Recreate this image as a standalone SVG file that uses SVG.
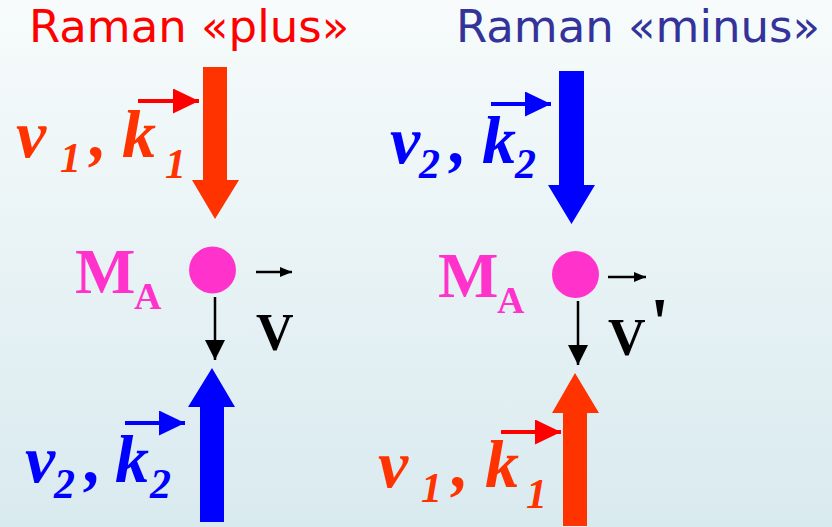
<svg xmlns="http://www.w3.org/2000/svg" width="832" height="527" viewBox="0 0 832 527">
<defs>
<linearGradient id="bg" x1="0" y1="0" x2="0" y2="1">
<stop offset="0" stop-color="#f7fbfb"/>
<stop offset="1" stop-color="#d9eaef"/>
</linearGradient>
<marker id="hRed" markerUnits="userSpaceOnUse" markerWidth="27" markerHeight="26" refX="26" refY="12.5" orient="auto"><path d="M0,0 L26,12.5 L0,25 z" fill="#ff0000"/></marker>
<marker id="hBlue" markerUnits="userSpaceOnUse" markerWidth="27" markerHeight="26" refX="26" refY="12.5" orient="auto"><path d="M0,0 L26,12.5 L0,25 z" fill="#0000ff"/></marker>
<marker id="hBlkS" markerUnits="userSpaceOnUse" markerWidth="13" markerHeight="11" refX="12" refY="5" orient="auto"><path d="M0,0 L12,5 L0,10 z" fill="#000"/></marker>
<marker id="hBlkL" markerUnits="userSpaceOnUse" markerWidth="21" markerHeight="21" refX="20" refY="10" orient="auto"><path d="M0,0 L20,10 L0,20 z" fill="#000"/></marker>
</defs>
<style>
.title{font-family:"DejaVu Sans","Liberation Sans",sans-serif;font-size:45px}
.sym{font-family:"Liberation Serif","Times New Roman",serif;font-style:italic;font-weight:bold}
.big{font-size:68px}
.sub{font-size:42px}
.mass{font-family:"Liberation Serif","Times New Roman",serif;font-weight:bold;fill:#ff33cc}
.vel{font-family:"Liberation Serif","Times New Roman",serif;font-weight:bold;font-size:52px;fill:#000}
.vec{stroke-width:4;fill:none}
.blk{stroke:#000;stroke-width:2.5;fill:none}
</style>
<rect width="832" height="527" fill="url(#bg)"/>

<g id="title-plus"><text class="title" x="29" y="42" fill="#ff0000">Raman «plus»</text></g>
<g id="title-minus"><text class="title" x="456" y="42" fill="#333399">Raman «minus»</text></g>

<g id="beam-nu1-top">
<polygon points="203,67 227,67 227,180 239,180 215,219 192,180 203,180" fill="#ff3300"/>
<text class="sym big" fill="#ff3300"><tspan x="16" y="157">ν</tspan><tspan class="sub" x="60" y="172">1</tspan><tspan x="90" y="157">,</tspan><tspan x="122" y="157">k</tspan><tspan class="sub" x="165" y="178">1</tspan></text>
</g>
<g id="beam-nu2-top">
<polygon points="559,71 584,71 584,185 595,185 571.5,224 548,185 559,185" fill="#0000ff"/>
<text class="sym big" fill="#0000ff"><tspan x="390" y="163">ν</tspan><tspan class="sub" x="419" y="178">2</tspan><tspan x="450" y="163">,</tspan><tspan x="482" y="163">k</tspan><tspan class="sub" x="515" y="178">2</tspan></text>
</g>
<g id="beam-nu2-bottom">
<polygon points="200,522 224,522 224,407 235,407 212,368 188,407 200,407" fill="#0000ff"/>
<text class="sym big" fill="#0000ff"><tspan x="25" y="482">ν</tspan><tspan class="sub" x="54" y="498">2</tspan><tspan x="85" y="482">,</tspan><tspan x="115" y="482">k</tspan><tspan class="sub" x="150" y="498">2</tspan></text>
</g>
<g id="beam-nu1-bottom">
<polygon points="563,526 587,526 587,413 599,413 575,373 552,413 563,413" fill="#ff3300"/>
<text class="sym big" fill="#ff3300"><tspan x="378" y="487">ν</tspan><tspan class="sub" x="421" y="502">1</tspan><tspan x="452" y="487">,</tspan><tspan x="485" y="487">k</tspan><tspan class="sub" x="526" y="508">1</tspan></text>
</g>

<g id="atom-left">
<circle cx="212.5" cy="270" r="23.5" fill="#ff33cc"/>
<text class="mass"><tspan x="75" y="293" font-size="64">M</tspan><tspan x="134" y="309" font-size="38">A</tspan></text>
<text class="vel" x="256" y="350">V</text>
</g>
<g id="atom-right">
<circle cx="575.5" cy="274.5" r="23.5" fill="#ff33cc"/>
<text class="mass"><tspan x="438" y="297" font-size="64">M</tspan><tspan x="497" y="313" font-size="38">A</tspan></text>
<text class="vel" x="608" y="355">V</text>
<text class="vel" x="650" y="346" style="font-size:70px">'</text>
</g>

<g id="connectors">
<line class="vec" x1="138" y1="101" x2="199" y2="101" stroke="#ff0000" marker-end="url(#hRed)"/>
<line class="vec" x1="491" y1="104" x2="551" y2="104" stroke="#0000ff" marker-end="url(#hBlue)"/>
<line class="vec" x1="125" y1="423" x2="185" y2="423" stroke="#0000ff" marker-end="url(#hBlue)"/>
<line class="vec" x1="501" y1="432" x2="561" y2="432" stroke="#ff0000" marker-end="url(#hRed)"/>
<line class="blk" x1="256" y1="272" x2="292" y2="272" marker-end="url(#hBlkS)"/>
<line class="blk" x1="608" y1="277" x2="646" y2="277" marker-end="url(#hBlkS)"/>
<line class="blk" x1="215" y1="297" x2="215" y2="360" marker-end="url(#hBlkL)"/>
<line class="blk" x1="578" y1="301" x2="578" y2="365" marker-end="url(#hBlkL)"/>
</g>
</svg>
